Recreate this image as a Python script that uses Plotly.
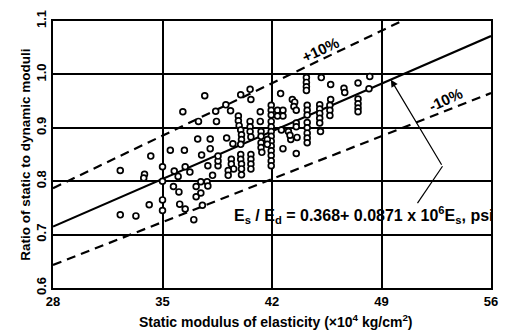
import plotly.graph_objects as go

# Scatter data: static modulus (x10^4 kg/cm^2) and ratio of static to dynamic moduli
static_mod = [
    37.7, 36.3, 35.5, 36.4, 34.25, 32.3, 33.85, 33.8, 35.0, 35.0, 35.0, 35.0,
    34.15, 32.3, 33.3, 35.75, 36.0, 35.7, 36.05, 37.15, 37.15, 37.45, 36.1, 36.45,
    37.0, 37.55, 37.45, 37.85, 37.9, 38.2, 37.9, 38.55, 38.55, 38.55, 37.5, 36.45, 36.75,
    37.3, 38.4, 38.45, 39.05, 39.35, 39.85, 39.85, 39.9, 40.0, 40.6, 40.65,
    37.25, 38.05, 39.1, 39.5, 38.05,
    40.0, 40.05, 40.05, 40.0,
    40.6, 40.6, 40.6, 40.65,
    41.25, 41.25,
    41.3, 41.3, 41.3, 41.3, 41.35,
    41.95, 41.95, 41.95,
    42.35, 42.7, 42.7, 42.35,
    42.55, 43.3,
    41.95, 41.95, 41.95, 41.95, 41.95, 41.95, 41.95, 41.95, 41.95, 41.95,
    41.7, 41.7, 42.6, 43.05, 42.7, 43.2,
    39.4, 39.4, 39.55,
    40.0, 40.0, 40.05, 40.05, 40.05,
    40.65, 40.65, 40.65, 40.65,
    39.2, 39.2,
    44.2, 44.2, 44.2, 44.2,
    45.15, 45.75, 46.6, 46.65, 47.5, 48.25, 48.2, 45.75,
    47.5, 47.5, 47.5, 47.5,
    45.7, 45.7, 45.7,
    45.05, 45.05, 45.05, 45.05, 45.05,
    44.25, 44.25, 44.25,
    43.45, 43.4, 43.55, 43.55, 43.55,
    44.25, 44.25, 44.25, 44.25, 44.25,
    43.6, 45.1, 43.55, 43.15,
]
ratio = [
    0.960, 0.930, 0.858, 0.858, 0.847, 0.820, 0.813, 0.806, 0.827, 0.800, 0.765, 0.745,
    0.756, 0.737, 0.735, 0.819, 0.809, 0.790, 0.780, 0.790, 0.771, 0.778, 0.757, 0.748,
    0.728, 0.755, 0.799, 0.799, 0.791, 0.811, 0.829, 0.829, 0.838, 0.847, 0.849, 0.827, 0.817,
    0.912, 0.931, 0.912, 0.943, 0.932, 0.922, 0.913, 0.904, 0.962, 0.972, 0.953,
    0.879, 0.879, 0.881, 0.870, 0.861,
    0.896, 0.887, 0.878, 0.869,
    0.912, 0.902, 0.893, 0.883,
    0.930, 0.912,
    0.893, 0.884, 0.872, 0.863, 0.854,
    0.942, 0.933, 0.924,
    0.933, 0.933, 0.922, 0.922,
    0.964, 0.953,
    0.912, 0.902, 0.893, 0.884, 0.875, 0.866, 0.857, 0.848, 0.838, 0.829,
    0.878, 0.869, 0.896, 0.893, 0.861, 0.878,
    0.841, 0.832, 0.823,
    0.850, 0.841, 0.832, 0.823, 0.812,
    0.850, 0.841, 0.832, 0.823,
    0.820, 0.811,
    0.994, 0.985, 0.977, 0.970,
    0.994, 0.981, 0.974, 0.966, 0.984, 0.996, 0.973, 0.953,
    0.954, 0.945, 0.937, 0.930,
    0.942, 0.933, 0.923,
    0.943, 0.935, 0.927, 0.918, 0.909,
    0.942, 0.933, 0.924,
    0.948, 0.940, 0.933, 0.909, 0.902,
    0.910, 0.900, 0.890, 0.881, 0.872,
    0.882, 0.893, 0.852, 0.886,
]

# Regression line and +/-10% bounds (end points)
fit_x = [28, 56]
fit_y = [0.715, 1.072]
upper_x = [28, 56]
upper_y = [0.787, 1.180]
lower_x = [28, 56]
lower_y = [0.643, 0.965]

x_ticks = [28, 35, 42, 49, 56]
y_ticks = [0.6, 0.7, 0.8, 0.9, 1.0, 1.1]
y_tick_text = ["0.6", "0.7", "0.8", "0.9", "1.0", "1.1"]

# Leader arrow for the equation label
leader_x = [51.3, 52.9]
leader_y = [0.759, 0.828]
arrow_tip = (49.6, 0.990)

FONT = "Liberation Sans"

fig = go.Figure()
fig.add_trace(go.Scatter(x=upper_x, y=upper_y, mode="lines",
                         line=dict(color="black", width=2.2, dash="9px,6px"), hoverinfo="skip"))
fig.add_trace(go.Scatter(x=lower_x, y=lower_y, mode="lines",
                         line=dict(color="black", width=2.2, dash="9px,6px"), hoverinfo="skip"))
fig.add_trace(go.Scatter(x=fit_x, y=fit_y, mode="lines",
                         line=dict(color="black", width=2.2), hoverinfo="skip"))
fig.add_trace(go.Scatter(x=leader_x, y=leader_y, mode="lines",
                         line=dict(color="black", width=1.2), hoverinfo="skip"))
fig.add_trace(go.Scatter(x=static_mod, y=ratio, mode="markers",
                         marker=dict(symbol="circle", size=5.8, color="white",
                                     line=dict(color="black", width=1.7))))

fig.add_annotation(x=arrow_tip[0], y=arrow_tip[1], ax=leader_x[1], ay=leader_y[1],
                   xref="x", yref="y", axref="x", ayref="y", text="",
                   showarrow=True, arrowhead=2, arrowsize=1.2, arrowwidth=1.2,
                   arrowcolor="black")

fig.add_annotation(x=45.1, y=1.047, xref="x", yref="y", text="<b>+10%</b>",
                   showarrow=False, textangle=-25,
                   font=dict(family=FONT, size=15, color="black"))
fig.add_annotation(x=53.1, y=0.953, xref="x", yref="y", text="<b>-10%</b>",
                   showarrow=False, textangle=-25,
                   font=dict(family=FONT, size=15, color="black"))
fig.add_annotation(x=47.9, y=0.737, xref="x", yref="y",
                   text="<b>E<sub>s</sub> / E<sub>d</sub> = 0.368+ 0.0871 x 10<sup>6</sup>E<sub>s</sub>, psi</b>",
                   showarrow=False,
                   font=dict(family=FONT, size=16, color="black"))

fig.add_annotation(x=-0.085, y=0.5, xref="paper", yref="paper", textangle=-90,
                   text="<b>Ratio of static to dynamic moduli</b>", showarrow=False,
                   font=dict(family=FONT, size=13.5, color="black"))
fig.add_annotation(x=0.51, y=-0.125, xref="paper", yref="paper",
                   text="<b>Static modulus of elasticity (\u00d710<sup>4</sup> kg/cm<sup>2</sup>)</b>",
                   showarrow=False, yanchor="middle",
                   font=dict(family=FONT, size=14, color="black"))

fig.update_layout(
    width=508, height=332,
    margin=dict(l=53, r=10, t=15, b=44),
    paper_bgcolor="white", plot_bgcolor="white",
    showlegend=False,
    font=dict(family=FONT, size=13, color="black"),
    xaxis=dict(range=[28, 56], tickvals=x_ticks, ticktext=[f"<b>{v}</b>" for v in x_ticks],
               showgrid=True, gridcolor="black", gridwidth=2,
               showline=True, linecolor="black", linewidth=2, mirror=True,
               zeroline=False, ticks="", tickfont=dict(family=FONT, size=13, color="black")),
    yaxis=dict(range=[0.6, 1.1], tickvals=y_ticks, ticktext=[f"<b>{t}</b>" for t in y_tick_text],
               tickangle=-90,
               showgrid=True, gridcolor="black", gridwidth=2,
               showline=True, linecolor="black", linewidth=2, mirror=True,
               zeroline=False, ticks="", tickfont=dict(family=FONT, size=13, color="black")),
)

fig.write_html("out.html")
